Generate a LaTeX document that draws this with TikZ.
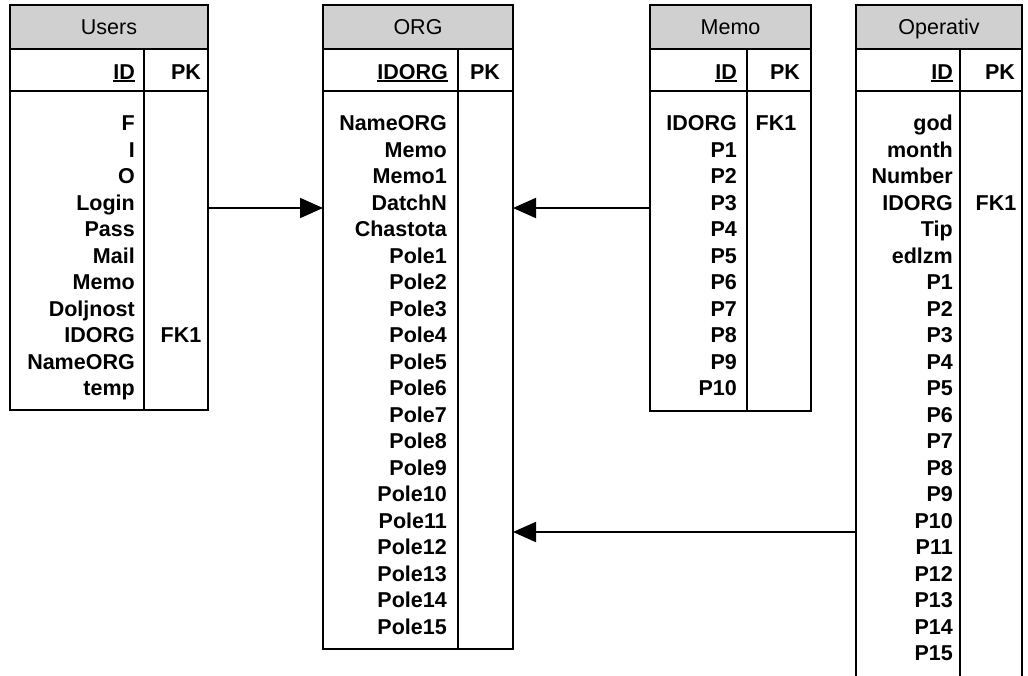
\documentclass[tikz,border=0pt]{standalone}
\usepackage{fontspec}
\setmainfont{Liberation Sans}
\usetikzlibrary{arrows.meta}
\definecolor{hdr}{RGB}{208,208,208}
\newcommand{\keyul}[1]{\setbox0\hbox{#1}\rlap{\rule[-3pt]{\wd0}{1.8pt}}\box0}
\begin{document}
\begin{tikzpicture}[x=1pt,y=-1pt,
  frame/.style={draw, line width=1.3pt, inner sep=0pt, outer sep=0pt, anchor=north west},
  hdrbox/.style={frame, fill=hdr},
  htxt/.style={font=\fontsize{21.5}{26}\selectfont, inner sep=0pt, anchor=base},
  ftxt/.style={font=\fontsize{21.5}{26}\selectfont\bfseries, inner sep=0pt, anchor=base east},
  ktxt/.style={font=\fontsize{21.5}{26}\selectfont\bfseries, inner sep=0pt, anchor=base},
  divider/.style={line width=1.3pt},
  rel/.style={line width=2pt, -{Triangle[length=23pt,width=20pt]}}
]
\useasboundingbox (0,0) rectangle (1028,675);

% ---------- Users ----------
\node[hdrbox, minimum width=198pt, minimum height=44pt] (usersH) at (10,5) {};
\node[frame, minimum width=198pt, minimum height=42pt] (usersK) at (10,49) {};
\node[frame, minimum width=198pt, minimum height=319pt] (usersB) at (10,91) {};
\draw[divider] (144,49) -- (144,410);
\node[htxt] (usersT) at (109,34.4) {Users};
\node[ftxt] (usersID) at (135,79) {\keyul{ID}};
\node[ktxt] (usersPK) at (186,79) {PK};
\foreach \t [count=\i from 0] in {F,I,O,Login,Pass,Mail,Memo,Doljnost,IDORG,NameORG,temp}
  \node[ftxt] (usersR\i) at (135,130.7+\i*26.5) {\t};
\node[ktxt] (usersFK) at (181,130.7+8*26.5) {FK1};

% ---------- ORG ----------
\node[hdrbox, minimum width=190pt, minimum height=44pt] (orgH) at (323,5) {};
\node[frame, minimum width=190pt, minimum height=42pt] (orgK) at (323,49) {};
\node[frame, minimum width=190pt, minimum height=558pt] (orgB) at (323,91) {};
\draw[divider] (458,49) -- (458,649);
\node[htxt] (orgT) at (418,34.4) {ORG};
\node[ftxt] (orgID) at (448,79) {\keyul{IDORG}};
\node[ktxt] (orgPK) at (485,79) {PK};
\foreach \t [count=\i from 0] in {NameORG,Memo,Memo1,DatchN,Chastota,Pole1,Pole2,Pole3,Pole4,Pole5,Pole6,Pole7,Pole8,Pole9,Pole10,Pole11,Pole12,Pole13,Pole14,Pole15}
  \node[ftxt] (orgR\i) at (447,130.7+\i*26.5) {\t};

% ---------- Memo ----------
\node[hdrbox, minimum width=161pt, minimum height=44pt] (memoH) at (650,5) {};
\node[frame, minimum width=161pt, minimum height=42pt] (memoK) at (650,49) {};
\node[frame, minimum width=161pt, minimum height=320pt] (memoB) at (650,91) {};
\draw[divider] (747,49) -- (747,411);
\node[htxt] (memoT) at (730.5,34.4) {Memo};
\node[ftxt] (memoID) at (737,79) {\keyul{ID}};
\node[ktxt] (memoPK) at (785,79) {PK};
\foreach \t [count=\i from 0] in {IDORG,P1,P2,P3,P4,P5,P6,P7,P8,P9,P10}
  \node[ftxt] (memoR\i) at (737,130.7+\i*26.5) {\t};
\node[ktxt] (memoFK) at (776,130.7) {FK1};

% ---------- Operativ ----------
\node[hdrbox, minimum width=166pt, minimum height=44pt] (opH) at (856,5) {};
\node[frame, minimum width=166pt, minimum height=42pt] (opK) at (856,49) {};
\node[frame, minimum width=166pt, minimum height=600pt] (opB) at (856,91) {};
\draw[divider] (960,49) -- (960,680);
\node[htxt] (opT) at (939,34.4) {Operativ};
\node[ftxt] (opID) at (953,79) {\keyul{ID}};
\node[ktxt] (opPK) at (1000,79) {PK};
\foreach \t [count=\i from 0] in {god,month,Number,IDORG,Tip,edlzm,P1,P2,P3,P4,P5,P6,P7,P8,P9,P10,P11,P12,P13,P14,P15}
  \node[ftxt] (opR\i) at (953,130.7+\i*26.5) {\t};
\node[ktxt] (opFK) at (996,130.7+3*26.5) {FK1};

% ---------- relations ----------
\coordinate (ya) at (0,208);
\coordinate (yb) at (0,532);
\draw[rel] (usersB.east |- ya) -- (orgB.west |- ya);
\draw[rel] (memoB.west |- ya) -- (orgB.east |- ya);
\draw[rel] (opB.west |- yb) -- (orgB.east |- yb);
\end{tikzpicture}
\end{document}
